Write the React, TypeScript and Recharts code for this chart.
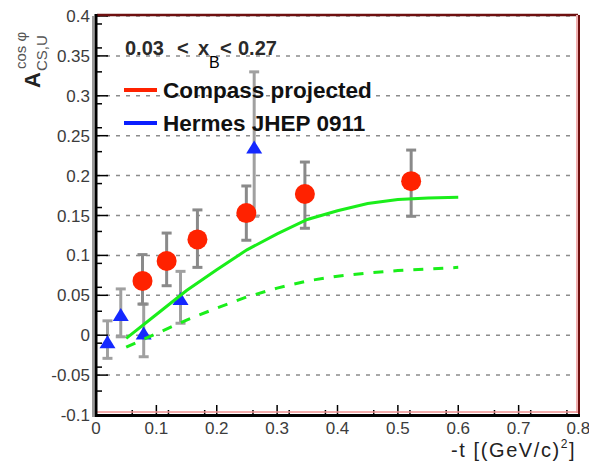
import React from 'react';
import { ComposedChart, Scatter, XAxis, YAxis, CartesianGrid, ErrorBar } from 'recharts';

const xTicks = [0, 0.1, 0.2, 0.3, 0.4, 0.5, 0.6, 0.7, 0.8];
const yTicks = [-0.1, -0.05, 0, 0.05, 0.1, 0.15, 0.2, 0.25, 0.3, 0.35, 0.4];
const xMinorTicks = [0.02, 0.04, 0.06, 0.08, 0.12, 0.14, 0.16, 0.18, 0.22, 0.24, 0.26, 0.28, 0.32, 0.34, 0.36, 0.38, 0.42, 0.44, 0.46, 0.48, 0.52, 0.54, 0.56, 0.58, 0.62, 0.64, 0.66, 0.68, 0.72, 0.74, 0.76, 0.78];
const yMinorTicks = [-0.09, -0.08, -0.07, -0.06, -0.04, -0.03, -0.02, -0.01, 0.01, 0.02, 0.03, 0.04, 0.06, 0.07, 0.08, 0.09, 0.11, 0.12, 0.13, 0.14, 0.16, 0.17, 0.18, 0.19, 0.21, 0.22, 0.23, 0.24, 0.26, 0.27, 0.28, 0.29, 0.31, 0.32, 0.33, 0.34, 0.36, 0.37, 0.38, 0.39];

// COMPASS projected
const compassT = [0.077, 0.117, 0.168, 0.249, 0.346, 0.522];
const compassA = [0.068, 0.093, 0.12, 0.153, 0.177, 0.193];
const compassLo = [0.029, 0.031, 0.035, 0.034, 0.043, 0.044];
const compassHi = [0.033, 0.035, 0.037, 0.034, 0.04, 0.039];

// HERMES JHEP 0911
const hermesT = [0.019, 0.041, 0.079, 0.14, 0.262];
const hermesA = [-0.01, 0.024, 0.001, 0.044, 0.234];
const hermesLo = [0.019, 0.026, 0.028, 0.029, 0.085];
const hermesHi = [0.028, 0.034, 0.038, 0.036, 0.096];

// model curves
const curveT = [0.05, 0.1, 0.15, 0.2, 0.25, 0.3, 0.35, 0.4, 0.45, 0.5, 0.55, 0.6];
const solidA = [-0.004, 0.026, 0.056, 0.082, 0.107, 0.127, 0.145, 0.156, 0.165, 0.17, 0.172, 0.173];
const dashedA = [-0.015, 0.002, 0.019, 0.034, 0.048, 0.059, 0.068, 0.074, 0.078, 0.081, 0.083, 0.085];

const compass = compassT.map((t, i) => ({ t, a: compassA[i], err: [compassLo[i], compassHi[i]] }));
const hermes = hermesT.map((t, i) => ({ t, a: hermesA[i], err: [hermesLo[i], hermesHi[i]] }));
const solid = curveT.map((t, i) => ({ t, a: solidA[i] }));
const dashed = curveT.map((t, i) => ({ t, a: dashedA[i] }));

const FONT = '"Liberation Sans", Arial, Helvetica, sans-serif';

const RedDot = (p: any) => <circle cx={p.cx} cy={p.cy} r={10} fill="#ff2200" />;
const BlueTri = (p: any) => {
  const { cx, cy } = p;
  return <polygon points={`${cx},${cy - 8} ${cx - 8},${cy + 5} ${cx + 8},${cy + 5}`} fill="#1428ff" />;
};
const NoShape = () => <g />;
const Empty = () => <g />;

export default function App() {
  const tickStyle = { fontSize: 17, fill: '#3c3c3c', fontFamily: FONT };
  const tl = { stroke: '#000', strokeWidth: 1.5 };
  return (
    <div style={{ position: 'absolute', left: 0, top: 0, width: 589, height: 462, background: '#fff' }}>
      <ComposedChart width={589} height={462} margin={{ top: 16, right: 10, bottom: 17, left: 0 }}>
        <CartesianGrid vertical={false} stroke="#8c8c8c" strokeWidth={1.5} strokeDasharray="4 6" />
        <XAxis
          type="number"
          dataKey="t"
          domain={[0, 0.8]}
          ticks={xTicks}
          allowDataOverflow
          height={30}
          axisLine={false}
          tickLine={tl}
          tickSize={-10}
          tickMargin={17}
          tick={tickStyle}
        />
        <XAxis
          xAxisId="xmin"
          type="number"
          dataKey="t"
          domain={[0, 0.8]}
          ticks={xMinorTicks}
          allowDataOverflow
          orientation="bottom"
          mirror
          height={1}
          axisLine={false}
          tickLine={tl}
          tickSize={5}
          tick={Empty}
        />
        <YAxis
          type="number"
          domain={[-0.1, 0.4]}
          ticks={yTicks}
          allowDataOverflow
          width={96}
          axisLine={false}
          tickLine={tl}
          tickSize={-12}
          tickMargin={18}
          tick={tickStyle}
        />
        <YAxis
          yAxisId="ymin"
          type="number"
          domain={[-0.1, 0.4]}
          ticks={yMinorTicks}
          allowDataOverflow
          mirror
          width={1}
          axisLine={false}
          tickLine={tl}
          tickSize={6}
          tick={Empty}
        />
        <Scatter data={hermes} dataKey="a" shape={BlueTri} isAnimationActive={false}>
          <ErrorBar dataKey="err" direction="y" stroke="#a0a0a0" strokeWidth={3} width={5} />
        </Scatter>
        <Scatter data={compass} dataKey="a" shape={RedDot} isAnimationActive={false}>
          <ErrorBar dataKey="err" direction="y" stroke="#8a8a8a" strokeWidth={3} width={5} />
        </Scatter>
        <Scatter
          data={solid}
          dataKey="a"
          shape={NoShape}
          line={{ stroke: '#1aee1a', strokeWidth: 3 }}
          isAnimationActive={false}
        />
        <Scatter
          data={dashed}
          dataKey="a"
          shape={NoShape}
          line={{ stroke: '#1aee1a', strokeWidth: 3, strokeDasharray: '10 10' }}
          isAnimationActive={false}
        />
        <Scatter
          data={solid}
          dataKey="a"
          xAxisId="xmin"
          yAxisId="ymin"
          shape={NoShape}
          isAnimationActive={false}
        />
      </ComposedChart>

      <svg
        width={589}
        height={462}
        style={{ position: 'absolute', left: 0, top: 0, pointerEvents: 'none' }}
        fontFamily={FONT}
      >
        {/* frame */}
        <line x1={93} y1={16} x2={93} y2={417} stroke="#9a9a9a" strokeWidth={2} />
        <line x1={97} y1={15} x2={578} y2={15} stroke="#6e1010" strokeWidth={2.5} />
        <line x1={577} y1={15} x2={577} y2={413} stroke="#f2b0b0" strokeWidth={2} />
        <line x1={579} y1={15} x2={579} y2={416} stroke="#6e1010" strokeWidth={2} />
        <line x1={96} y1={412} x2={578} y2={412} stroke="#f09090" strokeWidth={1.5} />
        <line x1={96} y1={14} x2={96} y2={417} stroke="#000" strokeWidth={3} />
        <line x1={95} y1={415.5} x2={580} y2={415.5} stroke="#000" strokeWidth={3} />

        {/* kinematic range */}
        <text x={125} y={55} fontSize={20} fontWeight="bold" fill="#2a2a2a">0.03</text>
        <text x={177} y={55} fontSize={20} fontWeight="bold" fill="#2a2a2a">&lt;</text>
        <text x={198} y={55} fontSize={20} fontWeight="bold" fill="#2a2a2a">x</text>
        <text x={209} y={68} fontSize={16} fill="#000">B</text>
        <text x={220} y={55} fontSize={20} fontWeight="bold" fill="#2a2a2a">&lt;</text>
        <text x={238} y={55} fontSize={20} fontWeight="bold" fill="#2a2a2a">0.27</text>

        {/* legend */}
        <line x1={124} y1={90} x2={157} y2={90} stroke="#ff2200" strokeWidth={4} />
        <text x={163} y={98} fontSize={22.5} fontWeight="bold" fill="#111">Compass projected</text>
        <line x1={124} y1={123} x2={157} y2={123} stroke="#0a1eff" strokeWidth={4} />
        <text x={163} y={131} fontSize={22.5} fontWeight="bold" fill="#111">Hermes JHEP 0911</text>

        {/* y title */}
        <g transform="translate(40,88) rotate(-90)">
          <text x={0} y={0} fontSize={22} fontWeight="bold" fill="#222">A</text>
          <text x={17} y={7} fontSize={15} fill="#555">CS,U</text>
          <text x={19} y={-14} fontSize={15} fill="#555">cos φ</text>
        </g>

        {/* x title */}
        <text x={451} y={457} fontSize={20} letterSpacing={1.6} fill="#222">
          -t [(GeV/c)
          <tspan dy={-9} fontSize={12}>2</tspan>
          <tspan dy={9}>]</tspan>
        </text>
      </svg>
    </div>
  );
}
